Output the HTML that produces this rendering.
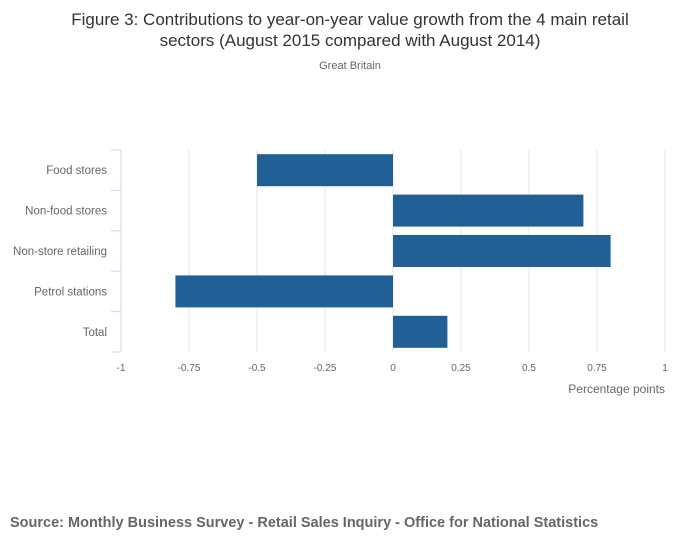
<!DOCTYPE html>
<html><head><meta charset="utf-8"><style>
body{margin:0;background:#fff;font-family:"Liberation Sans",sans-serif;}
svg text{font-family:"Liberation Sans",sans-serif;}
</style></head><body>
<svg width="700" height="549" xmlns="http://www.w3.org/2000/svg">
<text x="350" y="25" text-anchor="middle" font-size="17" fill="#333">Figure 3: Contributions to year-on-year value growth from the 4 main retail</text>
<text x="350" y="46" text-anchor="middle" font-size="17" fill="#333">sectors (August 2015 compared with August 2014)</text>
<text x="350" y="69" text-anchor="middle" font-size="11" fill="#666">Great Britain</text>
<g id="grid"></g><g id="bars"></g><g id="axes"></g>
<text x="665" y="393" text-anchor="end" font-size="12" fill="#666">Percentage points</text>
<text x="10" y="527" font-size="14.5" font-weight="bold" fill="#666">Source: Monthly Business Survey - Retail Sales Inquiry - Office for National Statistics</text>
</svg>
<script>
const categories=["Food stores","Non-food stores","Non-store retailing","Petrol stations","Total"];
const values=[-0.5,0.7,0.8,-0.8,0.2];
const xTicks=[-1,-0.75,-0.5,-0.25,0,0.25,0.5,0.75,1];
const xTickLabels=["-1","-0.75","-0.5","-0.25","0","0.25","0.5","0.75","1"];
const NS="http://www.w3.org/2000/svg";
const L=121,R=665,T=150,B=352;
const x=v=>L+(v+1)/2*(R-L);
const band=(B-T)/categories.length;
function mk(tag,a,p){const e=document.createElementNS(NS,tag);for(const k in a)e.setAttribute(k,a[k]);p.appendChild(e);return e;}
const grid=document.getElementById('grid'),bars=document.getElementById('bars'),axes=document.getElementById('axes');
xTicks.forEach((t,i)=>{
 if(i>0){const g=mk('line',{x1:x(t),x2:x(t),y1:T,y2:B,stroke:'#e6e6e6','stroke-width':1},grid);
 
 }
 const tx=mk('text',{x:x(t),y:371,'text-anchor':'middle','font-size':10,fill:'#666'},axes);
 tx.textContent=xTickLabels[i];
 
 
});
const ax=mk('line',{x1:L,x2:L,y1:T,y2:B,stroke:'#ccd6eb','stroke-width':1},axes);


for(let i=0;i<=categories.length;i++){
 const y=T+i*band;
 const tk=mk('line',{x1:111,x2:L,y1:y,y2:y,stroke:'#ccd6eb','stroke-width':1},axes);
 
 
}
categories.forEach((c,i)=>{
 const yc=T+(i+0.5)*band;
 const tx=mk('text',{x:107,y:yc+4,'text-anchor':'end','font-size':11.5,fill:'#666'},axes);
 tx.textContent=c;
 
 
 const v=values[i],x0=Math.min(x(0),x(v)),w=Math.abs(x(v)-x(0));
 const r=mk('rect',{x:x0,y:yc-16,width:w,height:32,fill:'#206095'},bars);
 
 
});
</script>
</body></html>
